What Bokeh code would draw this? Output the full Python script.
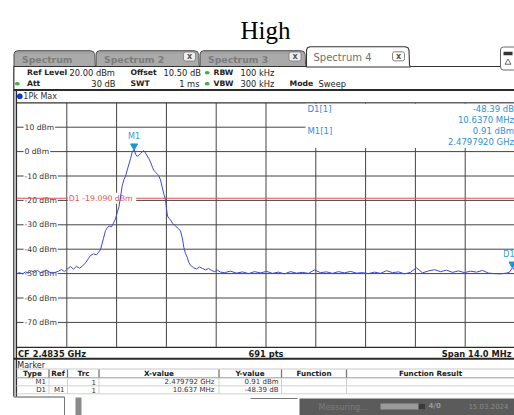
from bokeh.plotting import figure
from bokeh.models import Range1d
from bokeh.embed import file_html
from bokeh.resources import INLINE
from bokeh.core.properties import value

# ---------------- data ----------------
title = "High"
center_mhz = 2483.5
span_mhz = 14.0
ref_level_dbm = 20.0
range_db = 100.0
sweep_points = 691

freq_mhz = [
    2476.500, 2476.570, 2476.655, 2476.739, 2476.823, 2476.908, 2476.992, 2477.076,
    2477.161, 2477.245, 2477.329, 2477.414, 2477.498, 2477.582, 2477.667, 2477.751,
    2477.835, 2477.920, 2478.004, 2478.088, 2478.173, 2478.257, 2478.341, 2478.426,
    2478.510, 2478.566, 2478.651, 2478.735, 2478.791, 2478.847, 2478.890, 2478.932,
    2478.988, 2479.044, 2479.100, 2479.157, 2479.213, 2479.269, 2479.325, 2479.367,
    2479.410, 2479.458, 2479.508, 2479.550, 2479.607, 2479.649, 2479.691, 2479.739,
    2479.792, 2479.832, 2479.880, 2479.930, 2479.972, 2480.020, 2480.065, 2480.113,
    2480.160, 2480.211, 2480.253, 2480.309, 2480.346, 2480.394, 2480.450, 2480.486,
    2480.534, 2480.582, 2480.632, 2480.675, 2480.708, 2480.731, 2480.773, 2480.815,
    2480.871, 2480.956, 2481.040, 2481.096, 2481.153, 2481.189, 2481.237, 2481.285,
    2481.330, 2481.378, 2481.462, 2481.546, 2481.630, 2481.715, 2481.799, 2481.883,
    2481.968, 2482.052, 2482.136, 2482.221, 2482.333, 2482.502, 2482.671, 2482.839,
    2483.008, 2483.177, 2483.345, 2483.514, 2483.683, 2483.851, 2484.020, 2484.189,
    2484.357, 2484.526, 2484.695, 2484.863, 2485.032, 2485.201, 2485.369, 2485.538,
    2485.707, 2485.875, 2486.044, 2486.213, 2486.381, 2486.550, 2486.719, 2486.888,
    2487.056, 2487.225, 2487.394, 2487.562, 2487.731, 2487.900, 2488.068, 2488.237,
    2488.406, 2488.574, 2488.743, 2488.912, 2489.080, 2489.249, 2489.418, 2489.586,
    2489.755, 2489.924, 2490.092, 2490.261, 2490.345, 2490.429, 2490.486,
]
level_dbm = [
    -50.0, -49.6, -50.1, -49.3, -49.8, -48.9, -49.5, -48.7,
    -49.6, -49.2, -48.6, -49.4, -49.9, -49.5, -49.0, -48.3,
    -49.2, -48.0, -47.1, -48.2, -47.0, -47.8, -46.9, -45.6,
    -43.8, -42.6, -41.9, -42.3, -41.3, -40.2, -37.8, -35.5,
    -32.4, -31.0, -30.5, -30.8, -29.3, -27.6, -24.6, -22.6,
    -18.6, -14.0, -11.4, -10.2, -7.1, -5.0, -2.9, -0.2,
    0.91, -1.0, -2.0, -1.4, -0.8, -0.1, 0.4, -0.6,
    -1.8, -3.0, -4.3, -6.4, -7.7, -8.5, -9.3, -9.9,
    -11.6, -14.6, -17.6, -19.6, -24.0, -26.4, -27.4, -27.9,
    -29.4, -30.5, -31.6, -32.5, -35.8, -39.2, -41.8, -43.3,
    -45.4, -46.6, -47.6, -48.1, -47.3, -47.9, -48.5, -47.9,
    -48.7, -49.2, -48.6, -49.4, -49.6, -49.0, -49.8, -49.3,
    -50.0, -49.2, -49.7, -49.1, -49.9, -49.4, -50.1, -49.2,
    -49.8, -49.5, -49.9, -48.5, -49.6, -49.3, -49.9, -49.2,
    -49.7, -49.1, -49.8, -49.6, -50.0, -49.4, -49.9, -48.8,
    -49.6, -49.3, -50.1, -49.5, -47.6, -49.7, -48.9, -48.4,
    -49.2, -48.6, -49.5, -48.9, -49.6, -49.0, -49.4, -48.7,
    -49.8, -50.0, -50.1, -49.8, -49.4, -47.5, -48.6,
]

y_tick_values = [10, 0, -10, -20, -30, -40, -50, -60, -70]
y_tick_labels = ["10 dBm", "0 dBm", "-10 dBm", "-20 dBm", "-30 dBm",
                 "-40 dBm", "-50 dBm", "-60 dBm", "-70 dBm"]

m1_freq_mhz = 2479.792
m1_level_dbm = 0.91
d1_delta_mhz = 10.637
d1_delta_db = -48.39
display_line_dbm = -19.09

tab_names = ["Spectrum", "Spectrum 2", "Spectrum 3", "Spectrum 4"]
table_columns = ["Type", "Ref", "Trc", "X-value", "Y-value", "Function", "Function Result"]
table_rows = [
    ["M1", "", "1", "2.479792 GHz", "0.91 dBm", "", ""],
    ["D1", "M1", "1", "10.637 MHz", "-48.39 dB", "", ""],
]

# ---------------- layout (screen pixels of the picture) ----------------
W, H = 514, 415
GL, GR, GT, GB = 16.5, 514.5, 102.3, 346.3   # grid box
FONT = value("DejaVu Sans")

p = figure(width=W, height=H, x_range=Range1d(0, W), y_range=Range1d(H, 0),
           output_backend="svg", toolbar_location=None, min_border=0,
           x_axis_location=None, y_axis_location=None)
p.xgrid.visible = False
p.ygrid.visible = False
p.outline_line_color = None
p.background_fill_color = "white"
p.border_fill_color = "white"

f_start = center_mhz - span_mhz / 2
f_stop = center_mhz + span_mhz / 2
fpp = span_mhz / (GR - GL)
db_bottom = ref_level_dbm - range_db
dpp = range_db / (GB - GT)
p.extra_x_ranges = {"f": Range1d(f_start - GL * fpp, f_stop + (W - GR) * fpp)}
p.extra_y_ranges = {"db": Range1d(db_bottom - (H - GB) * dpp, ref_level_dbm + GT * dpp)}
R = dict(x_range_name="f", y_range_name="db")


def txt(x, y, s, size="8.3px", color="#222222", align="left", style="normal",
        font=FONT, baseline="middle", **kw):
    return p.text(x=[x], y=[y], text=[s], text_font=font, text_font_size=size,
                  text_color=color, text_align=align, text_font_style=style,
                  text_baseline=baseline, **kw)


def hline(x1, x2, y, color="#333333", w=1.0):
    p.segment(x0=[x1], y0=[y], x1=[x2], y1=[y], line_color=color, line_width=w)


def vline(x, y1, y2, color="#333333", w=1.0):
    p.segment(x0=[x], y0=[y1], x1=[x], y1=[y2], line_color=color, line_width=w)


def tab_shape(xl, xr, yt, yb, r=3.5):
    xs = [xl, xl, xl + 1.0, xl + r, xr - r - 2, xr - 2.5, xr - 1.5, xr - 1.0, xr]
    ys = [yb, yt + r, yt + 1.0, yt, yt, yt + 1.0, yt + r, yb - 2, yb]
    return xs, ys


# title
txt(265, 29.5, title, size="25px", color="#000000", align="center",
    font=value("Liberation Serif"), baseline="alphabetic")

# tabs
inactive = [(13.5, 95.5), (95.5, 199.5), (199.5, 306)]
for (xl, xr), name in zip(inactive, tab_names[:3]):
    xs, ys = tab_shape(xl, xr, 50.2, 66)
    p.patch(xs, ys, fill_color="#a0a0a0", line_color="#4d4d4d", line_width=1)
    p.quad(left=[xl + 1], right=[xr - 1.5], top=[53], bottom=[65.5], fill_color="#b2b2b2",
           line_color=None, fill_alpha=0.55)
    txt(xl + 8, 58.5, name, size="9.3px", color="#7c7c7c", style="bold")
for xc in (189, 294.5):
    p.rect(x=[xc], y=[56], width=12, height=9, fill_color="#eeeeee", line_color="#777777",
           line_width=0.8, border_radius=2)
    txt(xc, 56.3, "x", size="8px", color="#555555", align="center", style="bold")

xs, ys = tab_shape(306, 410, 46.2, 66.5)
p.patch(xs, ys, fill_color="white", line_color="#333333", line_width=1.1)
txt(313, 56.5, tab_names[3], size="10px", color="#6f6f6f")
p.rect(x=[398], y=[55.8], width=12, height=9, fill_color="white", line_color="#666666",
       line_width=0.8, border_radius=2)
txt(398, 56.1, "x", size="8px", color="#555555", align="center", style="bold")

hline(13, 306, 66, "#333333", 1.2)
hline(410, 514, 66, "#333333", 1.2)
p.rect(x=[508], y=[58], width=16, height=23, fill_color="white", line_color="#555555",
       line_width=0.9, border_radius=3)
p.rect(x=[507.5], y=[53], width=9, height=3.5, fill_color="#333333", line_color=None)
p.scatter(x=[507.5], y=[62], marker="triangle", size=6, fill_color="white",
          line_color="#444444", line_width=0.8)

# header rows
r1, r2 = 72.3, 83.3
BS = "7.7px"
txt(26.5, r1, "Ref Level", size=BS, style="bold")
txt(69, r1, "20.00 dBm")
txt(130, r1, "Offset", size=BS, style="bold")
txt(163, r1, "10.50 dB")
txt(213, r1, "RBW", size=BS, style="bold")
txt(240, r1, "100 kHz")
txt(26.5, r2, "Att", size=BS, style="bold")
txt(115, r2, "30 dB", align="right")
txt(130, r2, "SWT", size=BS, style="bold")
txt(199, r2, "1 ms", align="right")
txt(213, r2, "VBW", size=BS, style="bold")
txt(240, r2, "300 kHz")
txt(289, r2, "Mode", size=BS, style="bold")
txt(318, r2, "Sweep")
p.ellipse(x=[206.7, 16.8, 206.7], y=[r1, r2, r2], width=5, height=3.6,
          fill_color="#3fae49", line_color=None)

# outer frame
vline(13.3, 66, 396, "#2b2b2b", 1.2)
hline(13.3, 514, 89.6, "#2b2b2b", 2.0)
vline(15.9, 90, 396, "#2b2b2b", 1.4)

# trace label row
p.circle(x=[19.3], y=[95.8], radius=2.6, fill_color="#1036e6", line_color="#0a1f8a",
         line_width=0.5)
txt(22.8, 96, "1Pk Max", size="8px", color="#333333")

# grid
grid_c = "#444444"
div_f = span_mhz / 10
for k in range(1, 10):
    f = f_start + k * div_f
    p.segment(x0=[f], y0=[db_bottom], x1=[f], y1=[ref_level_dbm], line_color=grid_c,
              line_width=1, **R)
for v in y_tick_values:
    p.segment(x0=[f_start], y0=[v], x1=[f_stop], y1=[v], line_color=grid_c, line_width=1, **R)
hline(GL, 514, GT, "#333333", 1.2)
hline(GL, 514, GB + 0.5, "#2b2b2b", 1.3)

# y tick labels (white boxes over grid)
p.text(x=[f_start + 0.1] * len(y_tick_values), y=y_tick_values, text=y_tick_labels,
       text_font=FONT, text_font_size="7.6px", text_color="#333333",
       text_baseline="middle", text_align="left", x_offset=3,
       background_fill_color="white", padding=1, **R)

# display line D1
dl_c = "#e0554d"
p.segment(x0=[f_start], y0=[display_line_dbm], x1=[f_stop], y1=[display_line_dbm],
          line_color=dl_c, line_width=1.1, **R)
p.text(x=[f_start + 1.4], y=[display_line_dbm], text=["D1  %.3f dBm" % display_line_dbm],
       text_font=FONT, text_font_size="7.8px", text_color=dl_c, text_baseline="middle",
       text_align="left", x_offset=1, background_fill_color="white", padding=1, **R)

# trace
p.line(freq_mhz, level_dbm, line_color="#3a4bd6", line_width=1.0, **R)

# markers
mk_c = "#1f93d6"
d1_freq = m1_freq_mhz + d1_delta_mhz
d1_level = m1_level_dbm + d1_delta_db
p.scatter(x=[m1_freq_mhz, d1_freq], y=[m1_level_dbm + 1.4, d1_level + 1.4],
          marker="inverted_triangle", size=7, fill_color=mk_c, line_color=mk_c, **R)
p.text(x=[m1_freq_mhz], y=[m1_level_dbm + 3.4], text=["M1"],
       text_font=FONT, text_font_size="8px", text_color="#2f9fdc", text_align="center",
       text_baseline="bottom", **R)
# D1 label kept inside the picture (right aligned at the edge)
p.text(x=[d1_freq], y=[d1_level + 3.4], text=["D1"], x_offset=2,
       text_font=FONT, text_font_size="8px", text_color="#2f9fdc", text_align="right",
       text_baseline="bottom", **R)

# marker info box
p.quad(left=[305], right=[515], top=[GT + 1], bottom=[147.5], fill_color="white",
       line_color=None)
ic = "#2f8fd9"
txt(307, 108.6, "D1[1]", size="8.5px", color=ic)
txt(513.5, 108.6, "%.2f dB" % d1_delta_db, size="8.5px", color=ic, align="right")
txt(513.5, 119.6, "%.4f MHz" % d1_delta_mhz, size="8.5px", color=ic, align="right")
txt(307, 130.3, "M1[1]", size="8.5px", color=ic)
txt(513.5, 130.3, "%.2f dBm" % m1_level_dbm, size="8.5px", color=ic, align="right")
txt(513.5, 141.2, "%.7f GHz" % (m1_freq_mhz / 1000), size="8.5px", color=ic, align="right")

# bottom status row
txt(17.5, 353, "CF %.4f GHz" % (center_mhz / 1000), size="8.3px", style="bold", color="#1a1a1a")
txt(248, 353, "%d pts" % sweep_points, size="8.3px", style="bold", color="#1a1a1a")
txt(511, 353, "Span %.1f MHz" % span_mhz, size="8.3px", style="bold", color="#1a1a1a",
    align="right")
hline(13.3, 514, 358.3, "#2b2b2b", 2.0)

# marker table
txt(16.8, 365, "Marker", size="8px", color="#1a1a1a")
hline(16, 514, 368.5, "#c9c9c9", 1)
hline(16, 514, 377.3, "#9a9a9a", 1)
hline(16, 514, 385.3, "#d0d0d0", 1)
hline(16, 514, 393.3, "#d0d0d0", 1)
col_sep = [48.5, 67, 98.5, 218.5, 281, 346]
for xs_ in col_sep:
    vline(xs_, 369, 377, "#777777", 1.3)
    vline(xs_, 377.5, 393.3, "#d0d0d0", 1)
col_centers = [32, 57.5, 83, 158.5, 249.5, 313.5, 430]
for c, name in zip(col_centers, table_columns):
    txt(c, 373.2, name, size="7.2px", style="bold", color="#1a1a1a", align="center")
right_edges = [45.5, 64, 95.5, 214, 278, 343, 510]
for ri, row in enumerate(table_rows):
    yy = 381.4 + ri * 8
    for c, cell in zip(right_edges, row):
        if cell:
            txt(c, yy, cell, size="7px", color="#333333", align="right")

# bottom bar (cropped window chrome)
hline(13.3, 64, 396.5, "#555555", 1)
vline(64, 396.5, 415, "#777777", 1)
p.quad(left=[75], right=[81], top=[397], bottom=[415], fill_color="#8a8a8a", line_color=None)
p.quad(left=[299], right=[515], top=[398], bottom=[415], fill_color="#5b5b5b", line_color=None)
hline(250, 297, 398, "#777777", 1)
txt(318, 407, "Measuring...", size="8px", color="#7c7c7c")
p.quad(left=[380], right=[425], top=[403], bottom=[409], fill_color="#9a9a9a", line_color=None)
p.quad(left=[418], right=[425], top=[403], bottom=[409], fill_color="#3a3a3a", line_color=None)
txt(428, 405.5, "4/0", size="7px", color="#9a9a9a", style="bold")
txt(508, 405, "15.03.2024", size="7px", color="#8a8a8a", align="right")

open("out.html", "w").write(file_html(p, INLINE))
